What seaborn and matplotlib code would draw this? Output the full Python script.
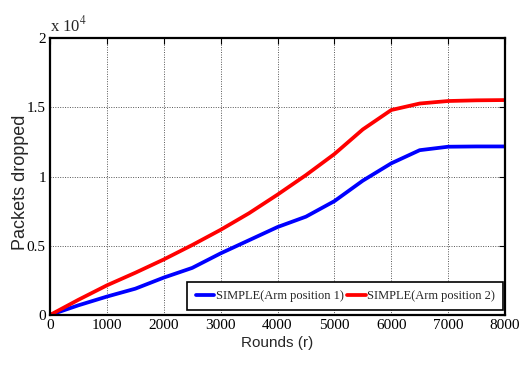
import numpy as np
import pandas as pd
import matplotlib
matplotlib.use("Agg")
import matplotlib.pyplot as plt
import seaborn as sns
from matplotlib.ticker import FuncFormatter, MultipleLocator

# Packets dropped per round for two arm positions
rounds = [0, 500, 1000, 1500, 2000, 2500, 3000, 3500, 4000, 4500,
          5000, 5500, 6000, 6500, 7000, 7500, 8000]
arm_pos1 = [0, 700, 1330, 1900, 2700, 3400, 4450, 5400, 6350, 7100,
            8220, 9700, 10950, 11900, 12150, 12170, 12170]
arm_pos2 = [0, 1100, 2140, 3050, 4010, 5050, 6150, 7350, 8690, 10100,
            11620, 13400, 14800, 15270, 15450, 15500, 15520]
series_names = ["SIMPLE(Arm position 1)", "SIMPLE(Arm position 2)"]
x_ticks = [0, 1000, 2000, 3000, 4000, 5000, 6000, 7000, 8000]

df = pd.concat([
    pd.DataFrame({"Rounds": rounds, "Packets": arm_pos1, "Series": series_names[0]}),
    pd.DataFrame({"Packets": arm_pos2, "Rounds": rounds, "Series": series_names[1]}),
])

sns.set_style("white")
serif = ["Liberation Serif", "DejaVu Serif"]
sans = ["Liberation Sans", "DejaVu Sans"]

fig = plt.figure(figsize=(5.22, 3.68), dpi=100)
ax = fig.add_axes([50 / 522, 1 - 315 / 368, 455 / 522, 277 / 368])

sns.lineplot(data=df, x="Rounds", y="Packets", hue="Series",
             palette=["#0000ff", "#ff0000"], linewidth=2.7, ax=ax)

ax.set_xlim(0, 8000)
ax.set_ylim(0, 20000)
ax.set_xticks(x_ticks)
ax.yaxis.set_major_locator(MultipleLocator(5000))
ax.yaxis.set_major_formatter(FuncFormatter(lambda v, p: f"{v / 1e4:g}"))

ax.grid(True, color="#555555", linestyle=(0, (1, 1.5)), linewidth=0.7)
for s in ax.spines.values():
    s.set_color("black")
    s.set_linewidth(1.6)

ax.tick_params(direction="in", length=4, width=0.8, colors="black",
               labelsize=11, pad=3, top=True, right=True,
               labeltop=False, labelright=False)
for lab in ax.get_xticklabels() + ax.get_yticklabels():
    lab.set_family(serif)

ax.set_xlabel("Rounds (r)", family=sans, fontsize=11, labelpad=3)
ax.set_ylabel("Packets dropped", family=sans, fontsize=13)
ax.yaxis.set_label_coords(-0.046, 0.48)

ax.text(0.0, 1.008, r"x 10$^{4}$", transform=ax.transAxes, ha="left",
        va="bottom", family=serif, fontsize=12, math_fontfamily="stix")

leg = ax.legend(loc="lower right", bbox_to_anchor=(0.996, 0.018),
                borderaxespad=0, ncol=2,
                prop={"family": serif, "size": 9},
                frameon=True, fancybox=False, handlelength=1.5,
                handletextpad=0.1, columnspacing=0.3, borderpad=0.65)
leg.get_frame().set_edgecolor("black")
leg.get_frame().set_linewidth(1.2)
leg.get_frame().set_alpha(1)

fig.savefig("out.png", dpi=100, facecolor="white")
